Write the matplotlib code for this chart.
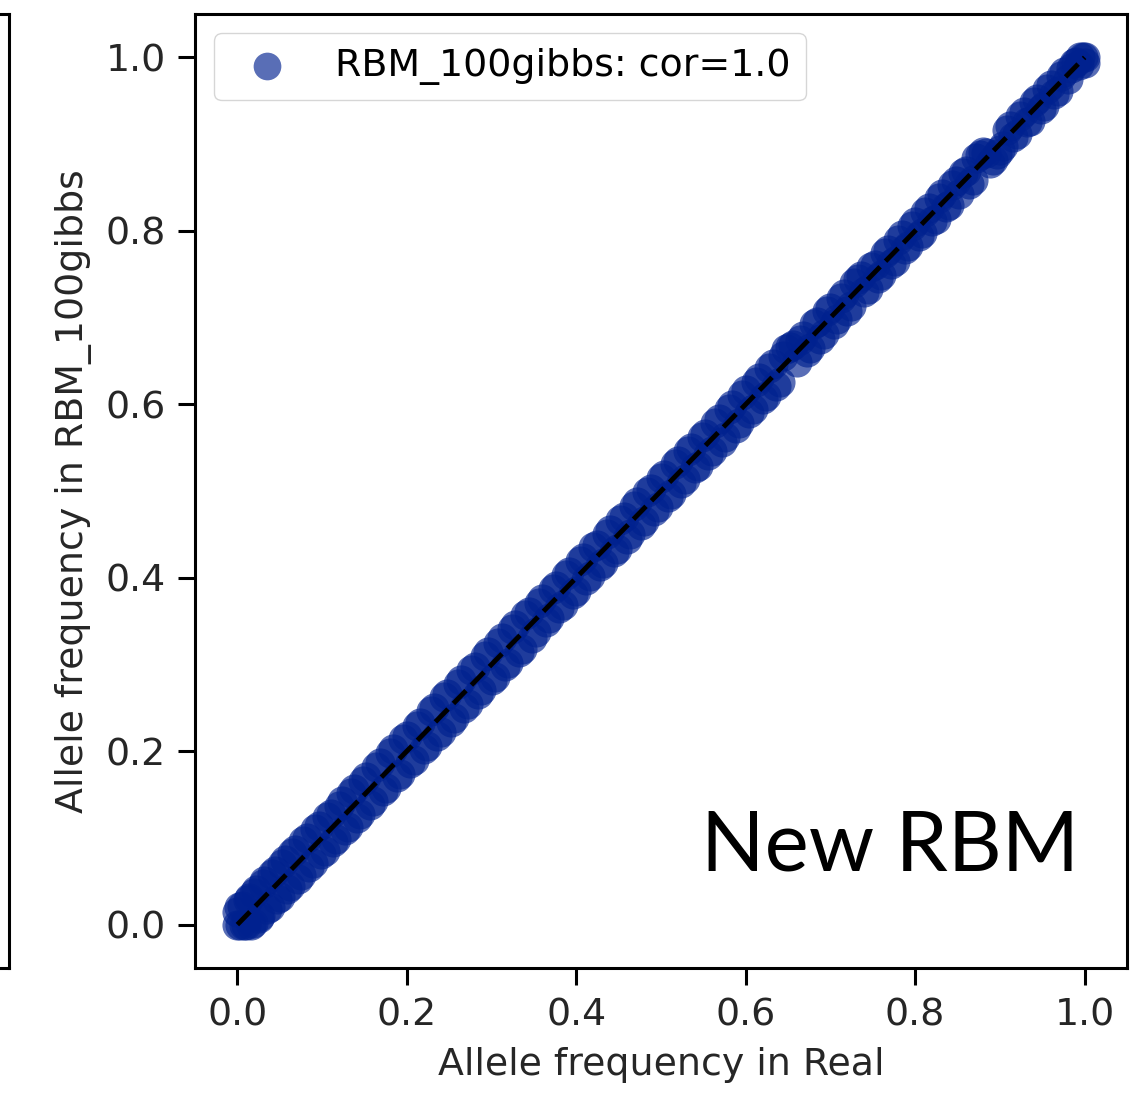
import matplotlib
matplotlib.use("Agg")
import matplotlib.pyplot as plt

# allele frequencies (real vs. RBM_100gibbs samples)
real_freq = [0.0, 0.0, 0.003, 0.006, 0.01, 0.014, 0.018, 0.022, 0.027, 0.032,
             0.038, 0.044, 0.05, 0.056, 0.062, 0.068, 0.075, 0.082, 0.089, 0.096,
             0.103, 0.11, 0.117, 0.124, 0.131, 0.138, 0.145, 0.152, 0.16, 0.168,
             0.176, 0.184, 0.192, 0.2, 0.208, 0.216, 0.224, 0.232, 0.24, 0.248,
             0.256, 0.264, 0.272, 0.28, 0.288, 0.296, 0.304, 0.312, 0.32, 0.328,
             0.336, 0.344, 0.352, 0.36, 0.368, 0.376, 0.384, 0.392, 0.4, 0.408,
             0.416, 0.424, 0.432, 0.44, 0.448, 0.456, 0.464, 0.472, 0.48, 0.488,
             0.496, 0.504, 0.512, 0.52, 0.528, 0.536, 0.544, 0.552, 0.56, 0.568,
             0.576, 0.584, 0.592, 0.6, 0.608, 0.616, 0.624, 0.632, 0.64, 0.648,
             0.656, 0.664, 0.672, 0.68, 0.688, 0.696, 0.704, 0.712, 0.72, 0.728,
             0.736, 0.744, 0.752, 0.76, 0.768, 0.776, 0.784, 0.792, 0.8, 0.808,
             0.816, 0.824, 0.832, 0.84, 0.848, 0.856, 0.864, 0.872, 0.88, 0.888,
             0.896, 0.904, 0.912, 0.92, 0.928, 0.936, 0.944, 0.952, 0.96, 0.968,
             0.976, 0.984, 0.99, 0.995, 1.0, 1.0]
rbm_freq = [0.0, 0.014, 0.0, 0.022, 0.0, 0.031, 0.002, 0.04, 0.01, 0.05,
            0.02, 0.062, 0.032, 0.074, 0.044, 0.086, 0.057, 0.1, 0.071, 0.114,
            0.085, 0.127, 0.099, 0.142, 0.113, 0.156, 0.127, 0.17, 0.142, 0.186,
            0.158, 0.202, 0.174, 0.218, 0.19, 0.233, 0.206, 0.25, 0.222, 0.266,
            0.238, 0.282, 0.254, 0.297, 0.27, 0.314, 0.286, 0.33, 0.302, 0.345,
            0.318, 0.36, 0.337, 0.375, 0.354, 0.391, 0.369, 0.407, 0.385, 0.423,
            0.402, 0.438, 0.417, 0.455, 0.433, 0.47, 0.45, 0.487, 0.465, 0.502,
            0.481, 0.519, 0.497, 0.535, 0.514, 0.55, 0.529, 0.566, 0.546, 0.583,
            0.562, 0.599, 0.578, 0.616, 0.594, 0.63, 0.61, 0.646, 0.626, 0.664,
            0.668, 0.674, 0.66, 0.693, 0.675, 0.708, 0.692, 0.723, 0.708, 0.74,
            0.748, 0.733, 0.761, 0.749, 0.778, 0.765, 0.795, 0.782, 0.81, 0.797,
            0.826, 0.814, 0.842, 0.83, 0.858, 0.867, 0.854, 0.884, 0.891, 0.878,
            0.889, 0.898, 0.921, 0.912, 0.937, 0.927, 0.952, 0.944, 0.968, 0.961,
            0.983, 0.988, 0.995, 1.0, 1.0, 0.994]

# second batch of sites, filling the band between the first ones
real_freq_b = [0.002, 0.008, 0.012, 0.016, 0.02, 0.025, 0.03, 0.035, 0.041, 0.047,
               0.053, 0.059, 0.065, 0.071, 0.078, 0.085, 0.092, 0.099, 0.106, 0.113,
               0.12, 0.127, 0.134, 0.141, 0.148, 0.156, 0.164, 0.172, 0.18, 0.188,
               0.196, 0.204, 0.212, 0.22, 0.228, 0.236, 0.244, 0.252, 0.26, 0.268,
               0.276, 0.284, 0.292, 0.3, 0.308, 0.316, 0.324, 0.332, 0.34, 0.348,
               0.356, 0.364, 0.372, 0.38, 0.388, 0.396, 0.404, 0.412, 0.42, 0.428,
               0.436, 0.444, 0.452, 0.46, 0.468, 0.476, 0.484, 0.492, 0.5, 0.508,
               0.516, 0.524, 0.532, 0.54, 0.548, 0.556, 0.564, 0.572, 0.58, 0.588,
               0.596, 0.604, 0.612, 0.62, 0.628, 0.636, 0.644, 0.652, 0.66, 0.668,
               0.676, 0.684, 0.692, 0.7, 0.708, 0.716, 0.724, 0.732, 0.74, 0.748,
               0.756, 0.764, 0.772, 0.78, 0.788, 0.796, 0.804, 0.812, 0.82, 0.828,
               0.836, 0.844, 0.852, 0.86, 0.868, 0.876, 0.884, 0.892, 0.9, 0.908,
               0.916, 0.924, 0.932, 0.94, 0.948, 0.956, 0.964, 0.972, 0.98, 0.987,
               0.993, 0.998]
rbm_freq_b = [0.02, 0.0, 0.028, 0.0, 0.037, 0.008, 0.047, 0.018, 0.058, 0.029,
              0.07, 0.041, 0.083, 0.053, 0.096, 0.067, 0.11, 0.081, 0.124, 0.095,
              0.137, 0.109, 0.152, 0.123, 0.166, 0.138, 0.182, 0.154, 0.198, 0.17,
              0.214, 0.186, 0.229, 0.202, 0.246, 0.218, 0.262, 0.234, 0.277, 0.25,
              0.294, 0.266, 0.31, 0.282, 0.325, 0.298, 0.341, 0.314, 0.357, 0.331,
              0.371, 0.349, 0.387, 0.365, 0.403, 0.381, 0.419, 0.397, 0.435, 0.413,
              0.451, 0.43, 0.467, 0.445, 0.483, 0.461, 0.499, 0.477, 0.515, 0.493,
              0.531, 0.509, 0.546, 0.526, 0.562, 0.541, 0.578, 0.557, 0.594, 0.573,
              0.611, 0.59, 0.626, 0.606, 0.642, 0.621, 0.656, 0.666, 0.649, 0.679,
              0.665, 0.695, 0.681, 0.711, 0.698, 0.727, 0.713, 0.744, 0.73, 0.758,
              0.746, 0.775, 0.762, 0.79, 0.779, 0.806, 0.794, 0.822, 0.811, 0.838,
              0.827, 0.853, 0.843, 0.869, 0.859, 0.887, 0.89, 0.882, 0.893, 0.916,
              0.908, 0.932, 0.925, 0.948, 0.941, 0.963, 0.958, 0.979, 0.975, 0.993,
              0.991, 1.0]

series_name = "RBM_100gibbs"
corr = 1.0
tick_vals = [0.0, 0.2, 0.4, 0.6, 0.8, 1.0]

fs = 27.3
fig = plt.figure(figsize=(11.43, 10.96), dpi=100)

# edge of the neighbouring panel, cut off on the left
ax0 = fig.add_axes([-0.1, 0.1168, 0.1075, 0.8704])
ax0.set_xticks([])
ax0.set_yticks([])
for sp in ax0.spines.values():
    sp.set_linewidth(2.2)

ax = fig.add_axes([0.1706, 0.1168, 0.8154, 0.8704])
ax.scatter(real_freq + real_freq_b, rbm_freq + rbm_freq_b, s=470,
           color="#00218f", alpha=0.65, linewidths=0,
           label="{}: cor={}".format(series_name, corr))
ax.plot([0, 1], [0, 1], "k--", lw=3.5)

ax.set_xlim(-0.05, 1.05)
ax.set_ylim(-0.05, 1.05)
ax.set_xticks(tick_vals)
ax.set_yticks(tick_vals)
ax.tick_params(labelsize=fs, length=12, width=2.2, pad=9, labelcolor="#262626")
for sp in ax.spines.values():
    sp.set_linewidth(2.2)

ax.set_xlabel("Allele frequency in Real", fontsize=fs, color="#262626", labelpad=10)
ax.set_ylabel("Allele frequency in " + series_name, fontsize=fs, color="#262626", labelpad=10)
ax.legend(loc="upper left", fontsize=fs, markerscale=0.92)

fig.text(0.779, 0.206, "New RBM", fontsize=60, family="Lato", ha="center", va="baseline")

fig.savefig("out.png", dpi=100)
